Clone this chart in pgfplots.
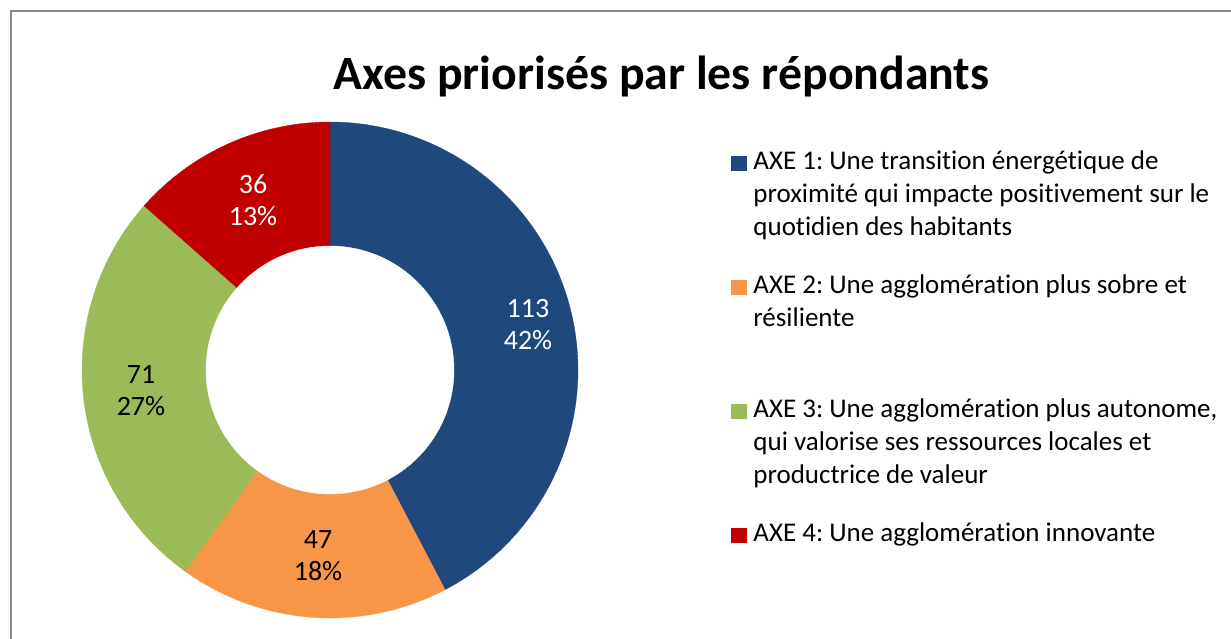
\documentclass[border=0pt]{standalone}
\usepackage{fontspec}
\setmainfont{Carlito}[Ligatures=NoCommon]
\usepackage{pgfplots}
\usepackage{pgfplotstable}
\pgfplotsset{compat=1.18}
\frenchspacing
\definecolor{axeA}{HTML}{1F497D}
\definecolor{axeB}{HTML}{F79646}
\definecolor{axeC}{HTML}{9BBB59}
\definecolor{axeD}{HTML}{C00000}
\definecolor{frame}{HTML}{8A8A8A}

\pgfplotstableread{
axe value pct
1 113 42
2 47 18
3 71 27
4 36 13
}\data
\pgfplotstablegetelem{0}{value}\of\data \let\va\pgfplotsretval
\pgfplotstablegetelem{1}{value}\of\data \let\vb\pgfplotsretval
\pgfplotstablegetelem{2}{value}\of\data \let\vc\pgfplotsretval
\pgfplotstablegetelem{3}{value}\of\data \let\vd\pgfplotsretval
\pgfmathsetmacro\tot{\va+\vb+\vc+\vd}
\pgfmathsetmacro\degr{360/\tot}
\pgfmathsetmacro\aA{90-\degr*\va}
\pgfmathsetmacro\aB{\aA-\degr*\vb}
\pgfmathsetmacro\aC{\aB-\degr*\vc}
\pgfmathsetmacro\aD{\aC-\degr*\vd}

\newcommand\lrule{\rule{0pt}{24pt}}
\newcommand\sprA{\rule{0pt}{16pt}}
\newcommand\sprB{\rule{0pt}{49pt}}

\begin{document}%
\begin{tikzpicture}[x=1pt,y=1pt]
\useasboundingbox (0,0) rectangle (1231,639);
\draw[frame, line width=2pt] (11,-5) -- (11,628) -- (1240,628);
\node[anchor=base, font=\fontsize{47.8}{56}\selectfont\bfseries] at (661.5,549) {Axes priorisés par les répondants};
\begin{axis}[
  at={(330pt,269pt)}, anchor=center,
  scale only axis, width=496pt, height=496pt,
  xmin=-248, xmax=248, ymin=-248, ymax=248,
  hide axis, clip=false,
  legend style={at={(1.30847,0.95161)}, anchor=north west, draw=none, fill=none,
    inner sep=0pt, outer sep=0pt, row sep=0pt, column sep=7pt,
    font=\fontsize{27}{33}\selectfont,
    nodes={inner sep=0pt, text depth=9pt}, cells={anchor=base west}},
]
\addplot[fill=axeA, draw=axeA, line width=0.3pt, domain=\aA:90, samples=120, forget plot] ({248*cos(x)},{248*sin(x)}) -- (axis cs:0,0) -- cycle;
\addplot[fill=axeB, draw=axeB, line width=0.3pt, domain=\aB:\aA, samples=60, forget plot] ({248*cos(x)},{248*sin(x)}) -- (axis cs:0,0) -- cycle;
\addplot[fill=axeC, draw=axeC, line width=0.3pt, domain=\aC:\aB, samples=80, forget plot] ({248*cos(x)},{248*sin(x)}) -- (axis cs:0,0) -- cycle;
\addplot[fill=axeD, draw=axeD, line width=0.3pt, domain=\aD:\aC, samples=50, forget plot] ({248*cos(x)},{248*sin(x)}) -- (axis cs:0,0) -- cycle;
\addplot[fill=white, draw=white, domain=0:360, samples=180, forget plot] ({124*cos(x)},{124*sin(x)}) -- cycle;

\node[white, align=center, font=\fontsize{28}{32}\selectfont] at (axis cs:198,45) {113\\42\%};
\node[black, align=center, font=\fontsize{28}{32}\selectfont] at (axis cs:-12,-186) {47\\18\%};
\node[black, align=center, font=\fontsize{28}{32}\selectfont] at (axis cs:-189,-21) {71\\27\%};
\node[white, align=center, font=\fontsize{28}{32}\selectfont] at (axis cs:-77,170) {36\\13\%};

\addlegendimage{legend image code/.code={\fill[axeA] (0pt,0pt) rectangle (15pt,14pt);}}
\addlegendentry{\lrule AXE 1: Une transition énergétique de}
\addlegendimage{empty legend}
\addlegendentry{\lrule proximité qui impacte positivement sur le}
\addlegendimage{empty legend}
\addlegendentry{\lrule quotidien des habitants}
\addlegendimage{empty legend}
\addlegendentry{\sprA}
\addlegendimage{legend image code/.code={\fill[axeB] (0pt,0pt) rectangle (15pt,14pt);}}
\addlegendentry{\lrule AXE 2: Une agglomération plus sobre et}
\addlegendimage{empty legend}
\addlegendentry{\lrule résiliente}
\addlegendimage{empty legend}
\addlegendentry{\sprB}
\addlegendimage{legend image code/.code={\fill[axeC] (0pt,0pt) rectangle (15pt,14pt);}}
\addlegendentry{\lrule AXE 3: Une agglomération plus autonome,}
\addlegendimage{empty legend}
\addlegendentry{\lrule qui valorise ses ressources locales et}
\addlegendimage{empty legend}
\addlegendentry{\lrule productrice de valeur}
\addlegendimage{empty legend}
\addlegendentry{\sprA}
\addlegendimage{legend image code/.code={\fill[axeD] (0pt,0pt) rectangle (15pt,14pt);}}
\addlegendentry{\lrule AXE 4: Une agglomération innovante}
\end{axis}
\end{tikzpicture}%
\end{document}
